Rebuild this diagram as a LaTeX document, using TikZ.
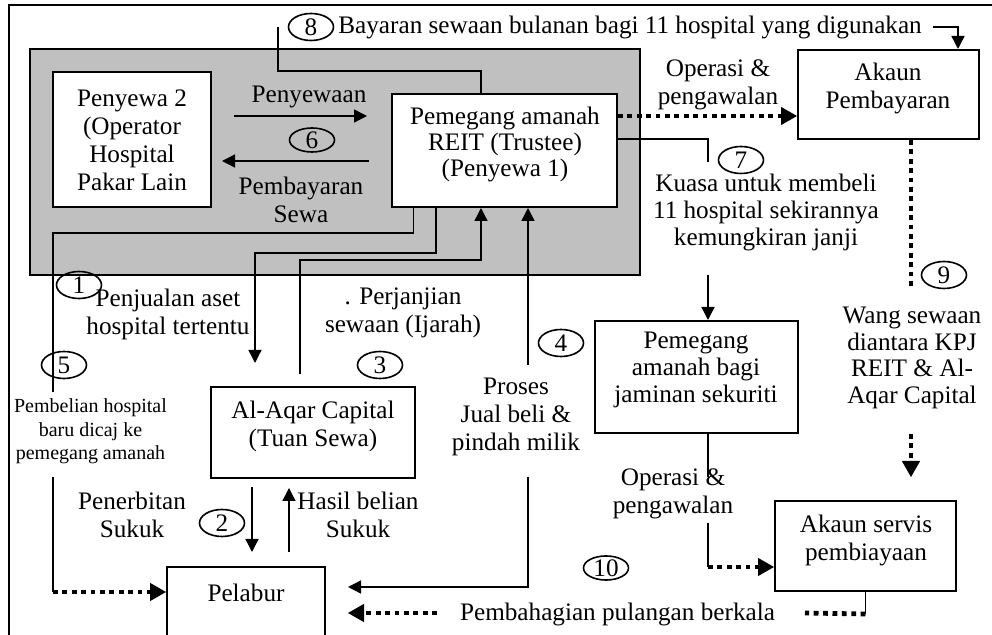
\documentclass[tikz,border=0pt]{standalone}
\usepackage{fontspec}
\setmainfont{Liberation Serif}
\usetikzlibrary{arrows.meta,calc,shapes.geometric}
\begin{document}
\begin{tikzpicture}[x=0.5pt,y=-0.5pt,
  frame/.style={line width=0.7pt},
  graybox/.style={draw, line width=1pt, fill=shade, inner sep=0pt},
  box/.style={draw, line width=1pt, fill=white, inner sep=0pt},
  conn/.style={line width=0.7pt},
  arr/.style={conn, -{Triangle[length=6.5pt,width=6.5pt]}},
  dotline/.style={line width=2.4pt, dash pattern=on 2.4pt off 2.3pt},
  dotarr/.style={dotline, -{Triangle[length=8pt,width=9pt,line width=0.5pt]}},
  num/.style={draw, ellipse, line width=0.8pt, minimum width=22.5pt, minimum height=13.5pt, inner sep=0pt, font=\fontsize{12.6}{14}\selectfont},
  lbl/.style={align=center, inner sep=0pt, font=\fontsize{12.6}{14}\selectfont},
  small/.style={align=center, inner sep=0pt, font=\fontsize{10}{11.75}\selectfont}
]
\definecolor{shade}{RGB}{192,192,192}
\useasboundingbox (0,0) rectangle (992,635);
\clip (0,0) rectangle (992,635);

% outer frame (cut)
\draw[frame] (9,660) -- (9,5) -- (1010,5);

% gray zone
\node[graybox, minimum width=305pt, minimum height=113pt] (zone) at (335,162) {};

% boxes
\node[box, minimum width=79pt, minimum height=67.5pt] (penyewa2) at (132,139.5) {};
\node[box, minimum width=112.5pt, minimum height=56.5pt] (reit) at (504.5,150.5) {};
\node[box, minimum width=90.5pt, minimum height=44.5pt] (akaun) at (888.5,94.5) {};
\node[box, minimum width=101.5pt, minimum height=56pt] (pemegang) at (696.5,377) {};
\node[box, minimum width=90.5pt, minimum height=45pt] (servis) at (865.5,546) {};
\node[box, minimum width=102pt, minimum height=45.5pt] (alaqar) at (313,432.5) {};
\node[box, minimum width=79pt, minimum height=53pt] (pelabur) at (246,620) {};

% box texts
\node[lbl] (penyewa2T) at (132,140) {Penyewa 2\\(Operator\\Hospital\\Pakar Lain};
\node[lbl, font=\fontsize{12.6}{13}\selectfont] (reitT) at (505,144) {Pemegang amanah\\REIT (Trustee)\\(Penyewa 1)};
\node[lbl] (akaunT) at (888,88.5) {Akaun\\Pembayaran};
\node[lbl, font=\fontsize{12.6}{13.5}\selectfont] (pemegangT) at (696,370) {Pemegang\\amanah bagi\\jaminan sekuriti};
\node[lbl] (servisT) at (866,540.5) {Akaun servis\\pembiayaan};
\node[lbl] (alaqarT) at (313,426.5) {Al-Aqar Capital\\(Tuan Sewa)};
\node[lbl] (pelaburT) at (246,593) {Pelabur};

% free-end coordinates
\coordinate (c8a) at (278,27);
\coordinate (c8b) at (933,27);
\coordinate (c7a) at (708,162);
\coordinate (c7b) at (708,275);
\coordinate (c9a) at (911,290);
\coordinate (c9b) at (911,434);
\coordinate (c9c) at (911,477);
\coordinate (c11a) at (708,477);
\coordinate (c11b) at (708,523);
\coordinate (c10b) at (805,613);
\coordinate (c10c) at (437,613);
\coordinate (c4a) at (528,477);
\coordinate (c4b) at (528,365);
\coordinate (c5a) at (53,392);
\coordinate (c5b) at (53,477);

% (6) Penyewaan / Pembayaran sewa
\draw[arr, shorten <=11pt, shorten >=12pt] ($(penyewa2.north east)+(0,45)$) -- ($(reit.north west)+(0,23)$);
\draw[arr, shorten <=11pt, shorten >=5pt] ($(reit.north west)+(0,68)$) -- ($(penyewa2.north east)+(0,90)$);

% (8) Bayaran sewaan bulanan
\draw[conn] ($(reit.north west)+(90,0)$) -- ++(0,-22) -| (c8a);
\draw[arr] (c8b) -| ($(akaun.north east)+(-22,0)$);

% Operasi & pengawalan (top)
\draw[dotarr] ($(reit.north east)+(0,23)$) coordinate (d1) -- (d1 -| akaun.west);

% (7) Kuasa untuk membeli
\draw[conn] ($(reit.north east)+(0,46)$) -| (c7a);
\draw[arr] (c7b) -- (c7b |- pemegang.north);

% Operasi & pengawalan (bottom)
\draw[conn] ($(pemegang.south)+(11.5,0)$) -- (c11a);
\draw[conn] (c11b) -- (708,567) coordinate (c11c);
\draw[dotarr] (c11c) -- (c11c -| servis.west);

% (9) Wang sewaan
\draw[dotline] ($(akaun.south)+(22.5,0)$) -- (c9a);
\draw[dotarr] (c9b) -- (c9c);

% (10) Pembahagian pulangan berkala
\draw[conn] (servis.south) -- ++(0,22) coordinate (c10a);
\draw[dotline] (c10a) -- (c10b);
\draw[dotarr, shorten >=11pt] (c10c) -- (c10c -| pelabur.east);

% (4) Proses jual beli
\draw[arr, shorten >=11pt] (c4a) |- ($(pelabur.north east)+(0,21)$);
\draw[arr] (c4b) -- (c4b |- reit.south);

% (1) Penjualan aset
\draw[arr, shorten >=11.5pt] ($(reit.south west)+(45,0)$) -- ++(0,45) -| ($(alaqar.north west)+(45,0)$);

% (3) Perjanjian sewaan
\draw[arr, shorten <=6pt] ($(alaqar.north west)+(90,0)$) -- ++(0,-126) -| ($(reit.south west)+(90,0)$);

% (5) Pembelian hospital baru
\draw[conn] ($(reit.south west)+(22.5,0)$) -- ++(0,25) -| (c5a);
\draw[conn] (c5b) -- (53,592) coordinate (c5c);
\draw[dotarr] (c5c) -- (c5c -| pelabur.west);

% (2) Penerbitan / Hasil belian Sukuk
\draw[arr, shorten <=4pt, shorten >=7pt] ($(alaqar.south west)+(42,0)$) -- ($(pelabur.north west)+(86,0)$);
\draw[arr, shorten <=7pt, shorten >=4.5pt] ($(pelabur.north west)+(123,0)$) -- ($(alaqar.south west)+(79,0)$);

% labels
\node[lbl] (lPenyewaan) at (309,97) {Penyewaan};
\node[lbl] (lPembayaran) at (301,200) {Pembayaran\\Sewa};
\node[lbl, anchor=west] (lBayaran) at (338,27) {Bayaran sewaan bulanan bagi 11 hospital yang digunakan};
\node[lbl] (lOperasi1) at (718,85) {Operasi \&\\pengawalan};
\node[lbl, font=\fontsize{12.6}{13.5}\selectfont] (lKuasa) at (766,212) {Kuasa untuk membeli\\11 hospital sekirannya\\kemungkiran janji};
\node[lbl, font=\fontsize{12.6}{13.3}\selectfont] (lWang) at (912,358) {Wang sewaan\\diantara KPJ\\REIT \& Al-\\Aqar Capital};
\node[lbl] (lOperasi2) at (673,493.5) {Operasi \&\\pengawalan};
\node[lbl] (lPembahagian) at (617.5,614) {Pembahagian pulangan berkala};
\node[lbl] (lProses) at (516,416.5) {Proses\\Jual beli \&\\pindah milik};
\node[lbl] (lPenjualan) at (168,314) {Penjualan aset\\hospital tertentu};
\node[lbl] (lPerjanjian) at (403,312.5) {. Perjanjian\\sewaan (Ijarah)};
\node[small] (lPembelian) at (90.5,431.5) {Pembelian hospital\\baru dicaj ke\\pemegang amanah};
\node[lbl] (lPenerbitan) at (132,515) {Penerbitan\\Sukuk};
\node[lbl] (lHasil) at (358,515) {Hasil belian\\Sukuk};

% numbered ellipses
\node[num] (n8) at (311,27) {8};
\node[num, minimum height=12pt] (n6) at (312,140) {6};
\node[num] (n7) at (741,160) {7};
\node[num] (n9) at (944,275) {9};
\node[num] (n1) at (79,285) {1};
\node[num] (n5) at (64,365) {5};
\node[num] (n3) at (380,365) {3};
\node[num] (n4) at (561,343) {4};
\node[num] (n2) at (222,523) {2};
\node[num, minimum height=12pt] (n10) at (606,568) {10};
\end{tikzpicture}
\end{document}
